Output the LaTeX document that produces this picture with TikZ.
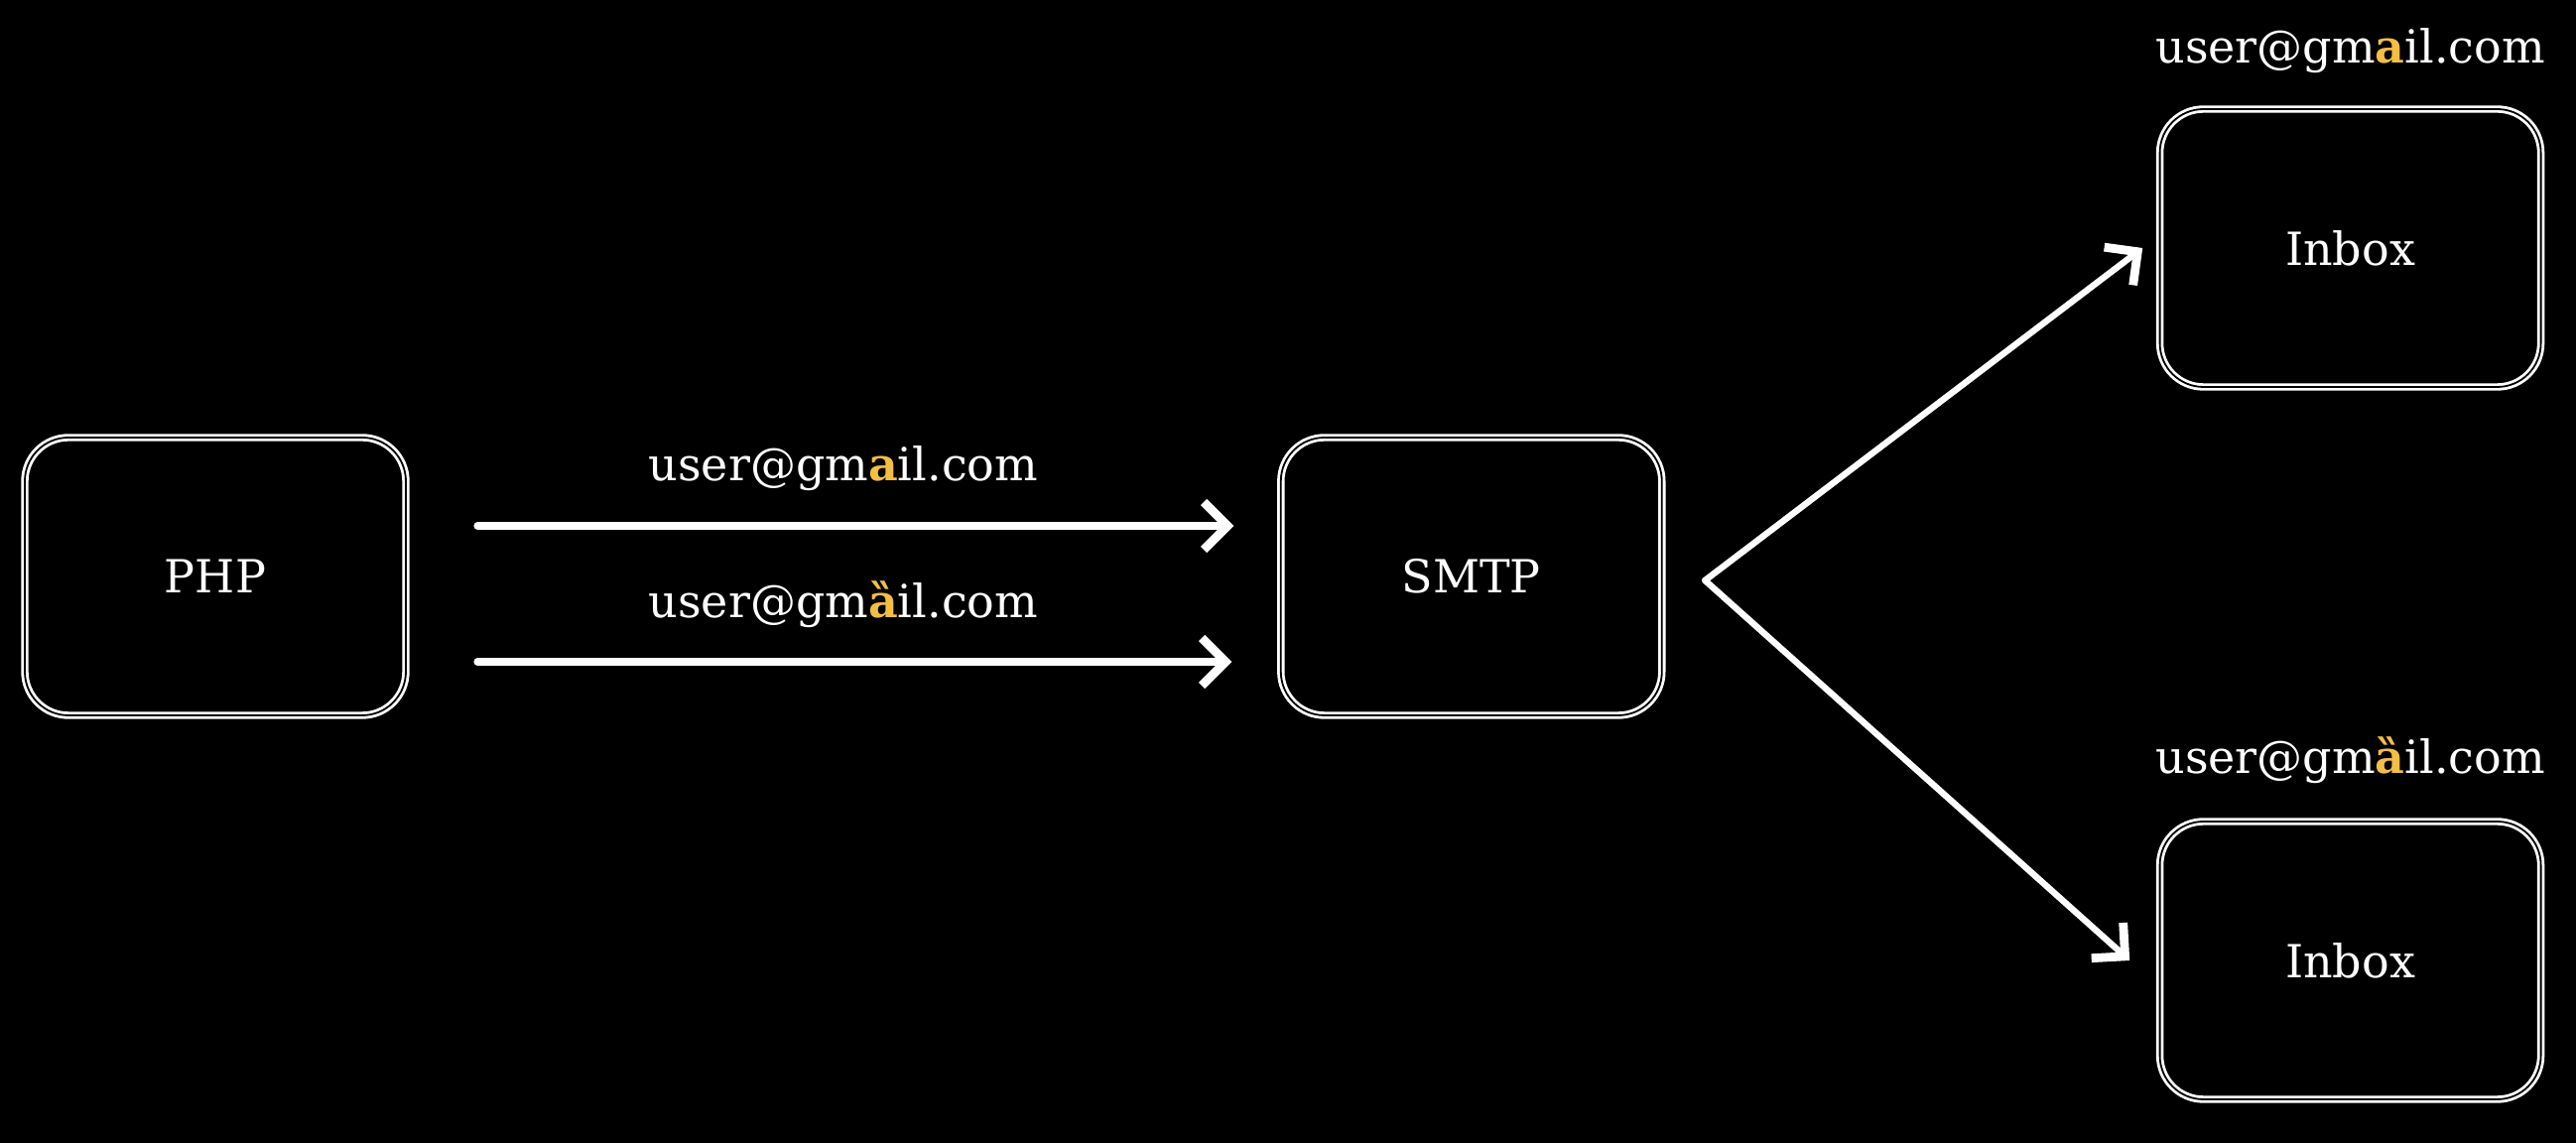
\documentclass[tikz,border=0pt]{standalone}
\usepackage{fontspec}
\setmainfont{DejaVu Serif}
\usepackage{xcolor}
\usetikzlibrary{positioning}
\usetikzlibrary{arrows.meta}
\definecolor{Gold}{HTML}{F3BE45}
\tikzset{
  sketch/.style={draw=white, double=black, double distance=0.45pt, line width=0.7pt,
    rounded corners=11pt, minimum width=96pt, minimum height=70pt,
    text=white, font=\fontsize{11.5}{14}\selectfont},
  mail/.style={text=white, inner sep=0pt, anchor=base, font=\fontsize{11.5}{14}\selectfont},
  flow/.style={draw=white, line width=2pt, line cap=round,
    -{Straight Barb[length=6pt,width=12pt,line width=2.2pt]}}
}

\begin{document}
\begin{tikzpicture}[x=0.25pt, y=-0.25pt]
        % background
        \fill[black] (0,0) rectangle (2596,1152);
        \useasboundingbox (0,0) rectangle (2596,1152);

        % boxes
        \node[sketch] (PHP) at (217,581) {PHP};
        \node[sketch, right=219.75pt of PHP] (SMTP) {SMTP};
        \node[sketch, right=124.75pt of SMTP, yshift=82.75pt] (InboxA) {Inbox};
        \node[sketch, right=124.75pt of SMTP, yshift=-96.75pt] (InboxB) {Inbox};
        \coordinate[right=10.5pt of SMTP.east, yshift=-1pt] (fork);

        % labels over the inboxes
        \node[mail, above=11.25pt of InboxA.north, anchor=base] (MailA) {user@gm{\color{Gold}\bfseries a}il.com};
        \node[mail, above=11.75pt of InboxB.north, anchor=base] (MailB) {user@gm{\color{Gold}\bfseries ȁ}il.com};

        % edges
        \draw[flow, shorten <=17.75pt, shorten >=11.5pt] ([yshift=12.75pt]PHP.east) -- ([yshift=12.75pt]SMTP.west)
            node[mail, midway, yshift=11.25pt] {user@gm{\color{Gold}\bfseries a}il.com};
        \draw[flow, shorten <=17.75pt, shorten >=12pt] ([yshift=-21.5pt]PHP.east) -- ([yshift=-21.5pt]SMTP.west)
            node[mail, midway, yshift=11pt] {user@gm{\color{Gold}\bfseries ȁ}il.com};
        \draw[flow, line width=1.6pt] (fork) -- ([xshift=-4pt]InboxA.west);
        \draw[flow, line width=1.6pt] (fork) -- ([xshift=-7.25pt]InboxB.west);
\end{tikzpicture}
\end{document}
